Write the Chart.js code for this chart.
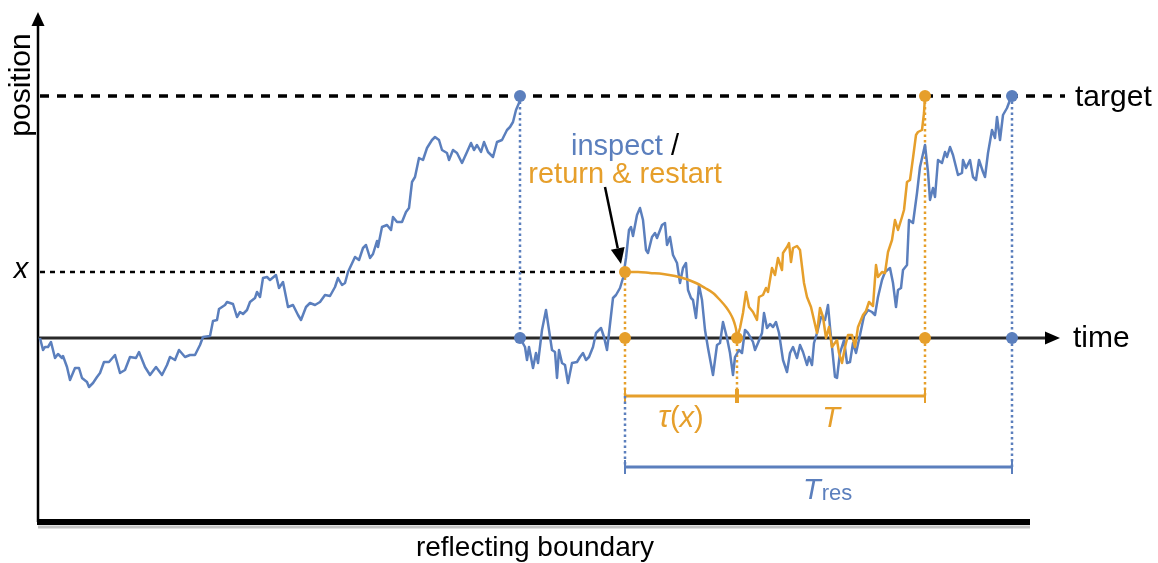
<!DOCTYPE html>
<html>
<head>
<meta charset="utf-8">
<script src="https://cdn.jsdelivr.net/npm/chart.js@4.4.1/dist/chart.umd.min.js"></script>
<style>
html,body{margin:0;padding:0;background:#fff;}
#wrap{width:1158px;height:563px;}
</style>
</head>
<body>
<div id="wrap"><canvas id="c" width="1158" height="563"></canvas></div>
<script>
// ---- key levels (position) and times ----
const TARGET = 242, XLEVEL = 66, BOUNDARY = -184;
const tFirstHit = 482, tReset = 587, tArcEnd = 699, tOrangeHit = 887, tBlueHit = 974;
const tAxisEnd = 1022, pAxisTop = 326, tTargetEnd = 1027, tBoundaryEnd = 992;
const bracketOrangeP = -58, bracketBlueP = -129;

// ---- blue run before first hitting the target: [time, position] ----
const blueRun1 = [[2,0],[5,-12],[7,-9],[10,-9],[13,-4],[17,-20],[20,-16],[24,-20],[25,-18],[29,-29],[32,-42],[37,-30],[41,-30],[44,-40],[49,-44],[51,-49],[55,-45],[59,-39],[62,-35],[66,-24],[71,-24],[77,-17],[82,-35],[87,-32],[92,-19],[98,-20],[101,-14],[107,-29],[112,-37],[118,-29],[124,-37],[129,-27],[132,-19],[137,-22],[141,-12],[147,-19],[152,-17],[157,-17],[162,-7],[165,1],[172,2],[175,17],[179,18],[181,29],[187,33],[189,36],[195,34],[199,21],[202,26],[205,24],[209,28],[212,36],[217,40],[219,46],[222,41],[225,60],[229,61],[232,58],[238,63],[241,50],[245,56],[250,31],[255,33],[260,23],[263,18],[268,31],[272,35],[277,33],[282,36],[287,43],[292,42],[297,51],[300,60],[304,53],[307,55],[310,66],[317,81],[321,78],[325,90],[328,93],[332,80],[335,84],[339,97],[340,91],[344,111],[349,113],[353,108],[355,121],[359,116],[364,116],[368,126],[371,130],[374,156],[377,161],[381,180],[385,178],[389,190],[394,198],[397,201],[401,198],[404,188],[409,185],[411,178],[415,188],[419,185],[424,175],[429,186],[433,195],[436,188],[439,193],[443,186],[446,196],[450,186],[455,181],[459,196],[464,198],[469,208],[472,211],[475,216],[478,228],[481,235],[483,242]];

// ---- blue run after restart from the time axis ----
const blueRun2 = [[482,0],[487,-9],[489,-22],[491,-9],[495,-30],[498,-15],[500,-25],[504,8],[508,28],[511,8],[514,-12],[517,-14],[519,-40],[521,-12],[524,-25],[527,-27],[530,-45],[534,-25],[539,-24],[542,-19],[545,-15],[548,-22],[551,-19],[555,-9],[558,5],[563,10],[566,1],[569,-12],[571,5],[575,40],[578,43],[582,50],[585,60],[588,80],[591,108],[593,111],[595,102],[599,123],[602,130],[605,118],[608,88],[610,85],[614,101],[617,105],[619,100],[624,113],[627,115],[629,93],[632,101],[635,83],[639,75],[642,55],[645,70],[648,75],[650,48],[653,40],[655,38],[658,20],[661,53],[664,38],[667,8],[670,-10],[675,-37],[679,-7],[682,-5],[685,16],[689,0],[692,-15],[695,-37],[697,-19],[701,-12],[704,-15],[707,8],[710,5],[715,-4],[717,-12],[720,-5],[724,5],[726,25],[729,10],[732,14],[735,11],[738,16],[741,5],[745,-22],[749,-34],[752,-15],[755,-9],[759,-20],[762,-7],[765,-14],[769,-27],[771,-19],[774,-27],[776,-5],[779,5],[783,21],[787,18],[790,33],[792,11],[795,-19],[797,-39],[799,-40],[802,-15],[806,-2],[809,-25],[812,-24],[815,-5],[818,-15],[822,3],[826,22],[830,28],[834,26],[837,23],[840,41],[844,58],[847,66],[852,70],[855,55],[858,31],[860,48],[863,50],[865,68],[869,73],[871,118],[875,115],[879,145],[882,171],[887,193],[890,166],[892,138],[895,150],[897,141],[900,178],[904,175],[907,186],[909,181],[912,191],[915,183],[920,163],[924,165],[925,178],[928,170],[932,178],[935,161],[938,158],[941,178],[945,166],[947,161],[950,185],[954,208],[957,200],[959,221],[962,198],[965,223],[969,230],[972,238],[974,242]];

// ---- orange return arc (from x back to the axis) ----
const orangeArc = [[587,66],[600,66],[612,65],[625,64],[637,62],[648,59],[658,55],[667,50],[675,45],[682,38],[688,31],[692,25],[695,19],[697,13],[698.5,6],[699,0]];

// ---- orange run after restart ----
const orangeRun = [[699,0],[702,10],[705,25],[708,46],[711,31],[715,26],[719,18],[721,41],[725,43],[728,50],[730,46],[734,70],[737,63],[740,80],[744,68],[745,85],[749,91],[751,95],[753,76],[755,90],[759,92],[762,88],[766,55],[769,41],[773,31],[776,18],[779,5],[782,30],[785,21],[788,0],[791,11],[794,-9],[799,-2],[801,-15],[804,-25],[807,-9],[810,3],[814,3],[817,-9],[820,11],[825,23],[828,27],[831,36],[835,32],[838,73],[840,61],[844,66],[847,65],[850,86],[854,98],[857,118],[860,108],[864,121],[866,128],[869,156],[872,158],[875,180],[878,203],[880,206],[884,208],[886,225],[887,242]];

// ---- marker points ----
const blueDots = [[tFirstHit,TARGET],[tFirstHit,0],[tBlueHit,TARGET],[tBlueHit,0]];
const orangeDots = [[tReset,XLEVEL],[tReset,0],[tArcEnd,0],[tOrangeHit,TARGET],[tOrangeHit,0]];

// ---- annotation arrow ----
const arrowFrom = [567,151], arrowTo = [583,74];

const BLUE = '#5b7fbd', ORANGE = '#e69f2b', BLACK = '#000';
const FONT = '"Liberation Sans", Arial, Helvetica, sans-serif';

const pts = a => a.map(([x,y]) => ({x, y}));
function seg(data, color, width, dash, order, extra) {
  return Object.assign({type:'scatter', data: pts(data), showLine:true, borderColor:color, backgroundColor:color,
    borderWidth:width, borderDash:dash||[], pointRadius:0, order:order, tension:0, borderCapStyle:'butt'}, extra||{});
}

const datasets = [
  {type:'scatter', data: pts(orangeDots), pointRadius:6, pointBackgroundColor:ORANGE, pointBorderWidth:0, order:0},
  {type:'scatter', data: pts(blueDots), pointRadius:6, pointBackgroundColor:BLUE, pointBorderWidth:0, order:0},
  seg(orangeRun, ORANGE, 2.5, null, 1, {borderJoinStyle:'round'}),
  seg(orangeArc, ORANGE, 2.5, null, 1, {cubicInterpolationMode:'monotone'}),
  seg(blueRun2, BLUE, 2.5, null, 2, {borderJoinStyle:'round'}),
  seg(blueRun1, BLUE, 2.5, null, 2, {borderJoinStyle:'round'}),
  seg([[tFirstHit,TARGET],[tFirstHit,0]], BLUE, 2.5, [2.5,3], 3),
  seg([[tBlueHit,TARGET],[tBlueHit,bracketBlueP]], BLUE, 2.5, [2.5,3], 3),
  seg([[tReset,bracketOrangeP],[tReset,bracketBlueP]], BLUE, 2.5, [2.5,3], 3),
  seg([[tReset,XLEVEL],[tReset,bracketOrangeP]], ORANGE, 2.5, [2.5,3], 3),
  seg([[tArcEnd,0],[tArcEnd,bracketOrangeP]], ORANGE, 2.5, [2.5,3], 3),
  seg([[tOrangeHit,TARGET],[tOrangeHit,bracketOrangeP]], ORANGE, 2.5, [2.5,3], 3),
  seg([[tReset,bracketOrangeP],[tOrangeHit,bracketOrangeP]], ORANGE, 3, null, 3),
  seg([[tReset,bracketOrangeP+7],[tReset,bracketOrangeP-7]], ORANGE, 2, null, 3),
  seg([[tArcEnd,bracketOrangeP+7],[tArcEnd,bracketOrangeP-7]], ORANGE, 4, null, 3),
  seg([[tOrangeHit,bracketOrangeP+7],[tOrangeHit,bracketOrangeP-7]], ORANGE, 2, null, 3),
  seg([[tReset,bracketBlueP],[tBlueHit,bracketBlueP]], BLUE, 3, null, 3),
  seg([[tReset,bracketBlueP+7],[tReset,bracketBlueP-7]], BLUE, 2, null, 3),
  seg([[tBlueHit,bracketBlueP+7],[tBlueHit,bracketBlueP-7]], BLUE, 2, null, 3),
  seg([[2,TARGET],[tTargetEnd,TARGET]], BLACK, 3.5, [9,8], 4),
  seg([[2,XLEVEL],[tReset,XLEVEL]], BLACK, 2.5, [5,5], 4),
  seg([[0,0],[tAxisEnd-12,0]], '#2a2a2a', 3, null, 5),
  seg([[0,BOUNDARY],[0,pAxisTop-10]], BLACK, 2.5, null, 5),
  seg([[-1,BOUNDARY],[tBoundaryEnd,BOUNDARY]], BLACK, 6, null, 5),
  seg([[0,BOUNDARY-5],[tBoundaryEnd,BOUNDARY-5]], '#c4c4c4', 3, null, 6),
];

const overlay = {
  id:'overlay',
  afterDatasetsDraw(chart) {
    const ctx = chart.ctx, xs = chart.scales.x, ys = chart.scales.y;
    const X = v => xs.getPixelForValue(v), Y = v => ys.getPixelForValue(v);
    ctx.save();
    ctx.fillStyle = '#000';
    let ax = X(tAxisEnd), ay = Y(0);
    ctx.beginPath(); ctx.moveTo(ax, ay); ctx.lineTo(ax-15, ay-6.5); ctx.lineTo(ax-15, ay+6.5); ctx.closePath(); ctx.fill();
    ax = X(0); ay = Y(pAxisTop);
    ctx.beginPath(); ctx.moveTo(ax, ay); ctx.lineTo(ax-6.5, ay+14); ctx.lineTo(ax+6.5, ay+14); ctx.closePath(); ctx.fill();
    const x1 = X(arrowFrom[0]), y1 = Y(arrowFrom[1]), x2 = X(arrowTo[0]), y2 = Y(arrowTo[1]);
    const ang = Math.atan2(y2-y1, x2-x1), hl = 16, hw = 7;
    const bx = x2 - hl*Math.cos(ang), by = y2 - hl*Math.sin(ang);
    ctx.strokeStyle = '#000'; ctx.lineWidth = 2.5;
    ctx.beginPath(); ctx.moveTo(x1,y1); ctx.lineTo(bx,by); ctx.stroke();
    ctx.beginPath(); ctx.moveTo(x2,y2);
    ctx.lineTo(bx + hw*Math.sin(ang), by - hw*Math.cos(ang));
    ctx.lineTo(bx - hw*Math.sin(ang), by + hw*Math.cos(ang)); ctx.closePath(); ctx.fill();

    ctx.textBaseline = 'middle';
    ctx.font = '30px ' + FONT;
    ctx.fillStyle = '#000';
    ctx.textAlign = 'left';
    ctx.fillText('target', X(1037), Y(240));
    ctx.fillText('time', X(1035), Y(-1));
    ctx.textAlign = 'center';
    ctx.font = '28px ' + FONT;
    ctx.fillText('reflecting boundary', X(497), Y(-210));
    ctx.font = '30px ' + FONT;
    ctx.save(); ctx.translate(X(-16), Y(253)); ctx.rotate(-Math.PI/2);
    ctx.fillText('position', 0, 0); ctx.restore();
    ctx.font = 'italic 29px ' + FONT;
    ctx.fillText('x', X(-17), Y(68));

    ctx.textBaseline = 'alphabetic';
    ctx.font = '29px ' + FONT;
    const w1 = ctx.measureText('inspect').width, w2 = ctx.measureText(' /').width;
    const cx = X(587), startX = cx - (w1+w2)/2;
    ctx.textAlign = 'left';
    ctx.fillStyle = BLUE; ctx.fillText('inspect', startX, Y(183));
    ctx.fillStyle = '#000'; ctx.fillText(' /', startX + w1, Y(183));
    ctx.textAlign = 'center';
    ctx.fillStyle = ORANGE; ctx.fillText('return & restart', cx, Y(155));

    ctx.textAlign = 'left';
    const base = Y(-89);
    const parts = [['τ','italic 31px '],['(','29px '],['x','italic 29px '],[')','29px ']];
    let tot = 0; parts.forEach(p => { ctx.font = p[1]+FONT; tot += ctx.measureText(p[0]).width; });
    let px = X(643) - tot/2;
    parts.forEach(p => { ctx.font = p[1]+FONT; ctx.fillText(p[0], px, base); px += ctx.measureText(p[0]).width; });
    ctx.textAlign = 'center';
    ctx.font = 'italic 29px ' + FONT;
    ctx.fillText('T', X(793), base);
    ctx.fillStyle = BLUE;
    ctx.textAlign = 'left';
    const tw = ctx.measureText('T').width;
    ctx.fillText('T', X(765), Y(-161));
    ctx.font = '22px ' + FONT;
    ctx.fillText('res', X(765) + tw + 1, Y(-162));
    ctx.restore();
  }
};

new Chart(document.getElementById('c'), {
  type: 'scatter',
  data: { datasets },
  options: {
    responsive: false,
    animation: false,
    devicePixelRatio: 1,
    layout: { padding: 0, autoPadding: false },
    plugins: { legend: {display:false}, tooltip: {enabled:false}, title: {display:false} },
    scales: {
      x: { type:'linear', min:-38, max:1120, display:false },
      y: { type:'linear', min:-225, max:338, display:false }
    }
  },
  plugins: [overlay]
});
</script>
</body>
</html>
